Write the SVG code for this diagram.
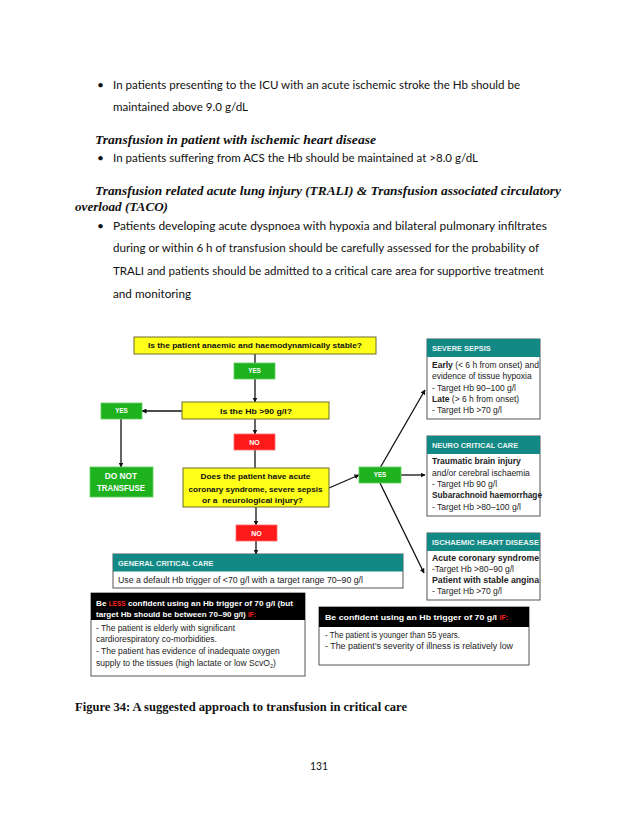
<svg xmlns="http://www.w3.org/2000/svg" width="638" height="826" viewBox="0 0 638 826">
<defs>
<marker id="ah" viewBox="0 0 10 10" refX="9" refY="5" markerWidth="5" markerHeight="5" orient="auto" markerUnits="userSpaceOnUse">
<path d="M0,0 L10,5 L0,10 z" fill="#111"/>
</marker>
<style>
.doc{font-family:Lato,"Liberation Sans",sans-serif;font-size:12px;fill:#111}
.hd{font-family:"Liberation Serif",serif;font-size:13px;font-weight:bold;font-style:italic;fill:#111}
.cap{font-family:"Liberation Serif",serif;font-size:12.5px;font-weight:bold;fill:#111}
.f{font-family:"Liberation Sans",Arial,sans-serif}
.yb{fill:#ffff1a;stroke:#6e6e30;stroke-width:1}
.gb{fill:#1fb21f;stroke:#5fcf5f;stroke-width:0.8}
.rb{fill:#ff1a1a;stroke:#ff6a6a;stroke-width:0.8}
.teal{fill:#138985}
.wb{fill:#fff;stroke:#555;stroke-width:1}
.blk{fill:#000}
.qt{font-size:7.4px;font-weight:bold;fill:#111}
.lt{font-size:6.3px;font-weight:bold;fill:#fff}
.ht{font-size:7.4px;font-weight:bold;fill:#e8f4f4}
.bt{font-size:8.5px;fill:#222}
.bb{font-weight:bold}
.wt{font-size:8.1px;font-weight:bold;fill:#fff}
.red{fill:#ff2020}
.cn line,.cn path{stroke:#111;stroke-width:1.3;fill:none}
</style>
</defs>
<rect width="638" height="826" fill="#fff"/>

<g id="page-text">
<text class="doc" x="97" y="88.5">•</text>
<text class="doc" x="113" y="88.5" textLength="407" lengthAdjust="spacingAndGlyphs">In patients presenting to the ICU with an acute ischemic stroke the Hb should be</text>
<text class="doc" x="113" y="111" textLength="135" lengthAdjust="spacingAndGlyphs">maintained above 9.0 g/dL</text>
<text class="hd" x="95" y="143.5" textLength="281" lengthAdjust="spacingAndGlyphs">Transfusion in patient with ischemic heart disease</text>
<text class="doc" x="97" y="161.5">•</text>
<text class="doc" x="113" y="161.5" textLength="365" lengthAdjust="spacingAndGlyphs">In patients suffering from ACS the Hb should be maintained at &gt;8.0 g/dL</text>
<text class="hd" x="95" y="195" textLength="466" lengthAdjust="spacingAndGlyphs">Transfusion related acute lung injury (TRALI) &amp; Transfusion associated circulatory</text>
<text class="hd" x="75" y="211" textLength="93" lengthAdjust="spacingAndGlyphs">overload (TACO)</text>
<text class="doc" x="97" y="229.5">•</text>
<text class="doc" x="113" y="229.5" textLength="434" lengthAdjust="spacingAndGlyphs">Patients developing acute dyspnoea with hypoxia and bilateral  pulmonary  infiltrates</text>
<text class="doc" x="113" y="252" textLength="426" lengthAdjust="spacingAndGlyphs">during or within 6 h of transfusion should be carefully assessed for the probability of</text>
<text class="doc" x="113" y="274.5" textLength="431" lengthAdjust="spacingAndGlyphs">TRALI and patients should be admitted to a critical care area for supportive treatment</text>
<text class="doc" x="113" y="298" textLength="78" lengthAdjust="spacingAndGlyphs">and monitoring</text>
<text class="cap" x="75" y="710.5" textLength="332" lengthAdjust="spacingAndGlyphs">Figure 34: A suggested approach to transfusion in critical care</text>
<text class="doc" x="310" y="770" textLength="18" lengthAdjust="spacingAndGlyphs">131</text>
</g>

<g class="cn" id="connectors">
<line x1="255" y1="354" x2="255" y2="363"/>
<line x1="255" y1="379" x2="255" y2="402" marker-end="url(#ah)"/>
<line x1="182" y1="411" x2="142" y2="411" marker-end="url(#ah)"/>
<line x1="255" y1="419" x2="255" y2="434" marker-end="url(#ah)"/>
<line x1="121" y1="419" x2="121" y2="467" marker-end="url(#ah)"/>
<line x1="255" y1="450" x2="255" y2="468"/>
<line x1="329" y1="488" x2="359" y2="475" marker-end="url(#ah)"/>
<line x1="401" y1="475" x2="425" y2="475" marker-end="url(#ah)"/>
<line x1="380" y1="468" x2="425" y2="390" marker-end="url(#ah)"/>
<line x1="380" y1="483" x2="424" y2="573" marker-end="url(#ah)"/>
<line x1="256" y1="507" x2="256" y2="525" marker-end="url(#ah)"/>
<line x1="256" y1="541" x2="256" y2="554" marker-end="url(#ah)"/>
</g>

<g id="q-anaemic" class="f">
<rect class="yb" x="134" y="337" width="242" height="17"/>
<text class="qt" x="255" y="348.3" text-anchor="middle" textLength="214" lengthAdjust="spacingAndGlyphs">Is the patient anaemic and haemodynamically stable?</text>
</g>
<g id="yes1" class="f">
<rect class="gb" x="234" y="363" width="41" height="16"/>
<text class="lt" x="254.5" y="373.3" text-anchor="middle">YES</text>
</g>
<g id="q-hb" class="f">
<rect class="yb" x="182" y="402" width="147" height="17"/>
<text class="qt" x="256" y="413.5" text-anchor="middle" textLength="72" lengthAdjust="spacingAndGlyphs">Is the Hb &gt;90 g/l?</text>
</g>
<g id="yes-left" class="f">
<rect class="gb" x="101" y="403" width="41" height="16"/>
<text class="lt" x="121.5" y="413.3" text-anchor="middle">YES</text>
</g>
<g id="no1" class="f">
<rect class="rb" x="234" y="434" width="41" height="16"/>
<text class="lt" x="254.5" y="444.5" text-anchor="middle" style="font-size:7px">NO</text>
</g>
<g id="do-not-transfuse" class="f">
<rect class="gb" x="90" y="467" width="63" height="30"/>
<text x="121" y="479" text-anchor="middle" style="font-size:8.3px;font-weight:bold;fill:#fff">DO NOT</text>
<text x="121" y="491.3" text-anchor="middle" style="font-size:8.3px;font-weight:bold;fill:#fff" textLength="48" lengthAdjust="spacingAndGlyphs">TRANSFUSE</text>
</g>
<g id="q-acs" class="f">
<rect class="yb" x="183" y="468" width="146" height="39"/>
<text class="qt" x="255.5" y="479.3" text-anchor="middle" textLength="110" lengthAdjust="spacingAndGlyphs">Does the patient have acute</text>
<text class="qt" x="255.5" y="491.5" text-anchor="middle" textLength="134" lengthAdjust="spacingAndGlyphs">coronary syndrome, severe sepsis</text>
<text class="qt" x="252.5" y="503.3" text-anchor="middle" textLength="101" lengthAdjust="spacingAndGlyphs" xml:space="preserve">or a  neurological injury?</text>
</g>
<g id="yes-right" class="f">
<rect class="gb" x="359" y="467" width="42" height="16"/>
<text class="lt" x="380" y="477.3" text-anchor="middle">YES</text>
</g>
<g id="no2" class="f">
<rect class="rb" x="236" y="525" width="41" height="16"/>
<text class="lt" x="256.5" y="535.5" text-anchor="middle" style="font-size:7px">NO</text>
</g>

<g id="severe-sepsis" class="f">
<rect class="wb" x="427" y="339" width="113" height="80"/>
<rect class="teal" x="427" y="339" width="113" height="18"/>
<text class="ht" x="432" y="351">SEVERE SEPSIS</text>
<text class="bt" x="432" y="368" textLength="107" lengthAdjust="spacingAndGlyphs"><tspan class="bb">Early</tspan> (&lt; 6 h from onset) and</text>
<text class="bt" x="432" y="379.2">evidence of tissue hypoxia</text>
<text class="bt" x="432" y="390.5">- Target Hb 90–100 g/l</text>
<text class="bt" x="432" y="401.7"><tspan class="bb">Late</tspan> (&gt; 6 h from onset)</text>
<text class="bt" x="432" y="413">- Target Hb &gt;70 g/l</text>
</g>
<g id="neuro-critical-care" class="f">
<rect class="wb" x="427" y="436" width="113" height="80"/>
<rect class="teal" x="427" y="436" width="113" height="18"/>
<text class="ht" x="432" y="448.3">NEURO CRITICAL CARE</text>
<text class="bt bb" x="432" y="464.3">Traumatic brain injury</text>
<text class="bt" x="432" y="475.7">and/or cerebral ischaemia</text>
<text class="bt" x="432" y="487">- Target Hb 90 g/l</text>
<text class="bt bb" x="432" y="498.3" textLength="110" lengthAdjust="spacingAndGlyphs">Subarachnoid haemorrhage</text>
<text class="bt" x="432" y="509.5">- Target Hb &gt;80–100 g/l</text>
</g>
<g id="ischaemic-heart-disease" class="f">
<rect class="wb" x="427" y="533" width="113" height="67"/>
<rect class="teal" x="427" y="533" width="113" height="18"/>
<text class="ht" x="432" y="545" textLength="107" lengthAdjust="spacingAndGlyphs">ISCHAEMIC HEART DISEASE</text>
<text class="bt bb" x="432" y="561" textLength="107" lengthAdjust="spacingAndGlyphs">Acute coronary syndrome</text>
<text class="bt" x="432" y="572">-Target Hb &gt;80–90 g/l</text>
<text class="bt bb" x="432" y="583" textLength="107" lengthAdjust="spacingAndGlyphs">Patient with stable angina</text>
<text class="bt" x="432" y="594.3">- Target Hb &gt;70 g/l</text>
</g>
<g id="general-critical-care" class="f">
<rect class="wb" x="113" y="554" width="290" height="34"/>
<rect class="teal" x="113" y="554" width="290" height="17.5"/>
<text class="ht" x="118" y="566">GENERAL CRITICAL CARE</text>
<text class="bt" x="118" y="582.5" textLength="245" lengthAdjust="spacingAndGlyphs">Use a default Hb trigger of &lt;70 g/l with a target range 70–90 g/l</text>
</g>

<g id="less-confident" class="f">
<rect class="wb" x="91" y="593" width="214" height="83"/>
<rect class="blk" x="91" y="593" width="214" height="27"/>
<text class="wt" x="96" y="605.7" textLength="197" lengthAdjust="spacingAndGlyphs">Be <tspan class="red" style="font-size:6.4px">LESS</tspan> confident using an Hb trigger of 70 g/l (but</text>
<text class="wt" x="96" y="617">target Hb should be between 70–90 g/l) <tspan class="red" style="font-size:6.4px">IF:</tspan></text>
<text class="bt" x="96" y="630.5" textLength="139" lengthAdjust="spacingAndGlyphs">- The patient is elderly with significant</text>
<text class="bt" x="96" y="642.3">cardiorespiratory co-morbidities.</text>
<text class="bt" x="96" y="654.3">- The patient has evidence of inadequate oxygen</text>
<text class="bt" x="96" y="666">supply to the tissues (high lactate or low ScvO<tspan style="font-size:5.5px" dy="2">2</tspan><tspan dy="-2">)</tspan></text>
</g>
<g id="confident" class="f">
<rect class="wb" x="319" y="607" width="210" height="58"/>
<rect class="blk" x="319" y="607" width="210" height="20"/>
<text class="wt" x="325" y="620" textLength="183" lengthAdjust="spacingAndGlyphs">Be confident using an Hb trigger of 70 g/l <tspan class="red" style="font-size:6.4px">IF:</tspan></text>
<text class="bt" x="325" y="638" textLength="135" lengthAdjust="spacingAndGlyphs">- The patient is younger than 55 years.</text>
<text class="bt" x="325" y="648.7" textLength="188" lengthAdjust="spacingAndGlyphs">- The patient’s severity of illness is relatively low</text>
</g>
</svg>
